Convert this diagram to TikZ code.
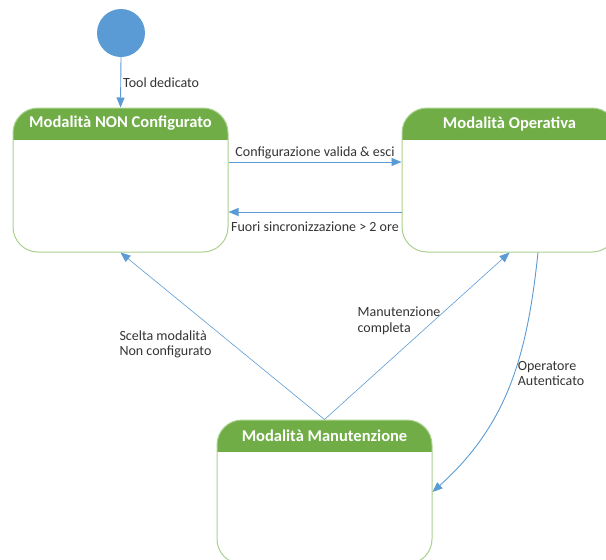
\documentclass[tikz,border=0pt]{standalone}
\usepackage{fontspec}
\setmainfont{Carlito}
\usetikzlibrary{arrows.meta}
\definecolor{verde}{HTML}{70AD47}
\definecolor{bordo}{HTML}{A9D18E}
\definecolor{blu}{HTML}{5B9BD5}
\begin{document}
\begin{tikzpicture}[x=1pt, y=-1pt, line join=round, >={Triangle[length=10pt,width=8pt]},
	freccia/.style={->, draw=blu, line width=0.9pt},
	etichetta/.style={font=\fontsize{14}{15.5}\selectfont, text=black!80, align=left, inner sep=1pt},
	titolo/.style={font=\fontsize{16.5}{18}\selectfont\bfseries, text=white},
	stato/.style={draw=bordo, line width=1pt, fill=white, rounded corners=25pt, minimum width=215pt, minimum height=144pt, inner sep=0,
		path picture={\fill[verde, sharp corners] (path picture bounding box.north west) rectangle ([yshift=-32pt]path picture bounding box.north east);}}]
	\useasboundingbox (0,0) rectangle (606,560);
	\clip (0,0) rectangle (606,560);
	\node[circle, fill=blu, minimum size=48pt, inner sep=0] (inizio) at (121,33) {};
	\node[stato] (nonconf) at (120.5,180) {};
	\node[stato] (operativa) at (509.5,180) {};
	\node[stato] (manut) at (324.5,492) {};
	\node[titolo] (tnonconf) at ([yshift=-16pt]nonconf.north) {Modalità NON Configurato};
	\node[titolo] (toperativa) at ([yshift=-16pt]operativa.north) {Modalità Operativa};
	\node[titolo] (tmanut) at ([yshift=-16pt]manut.north) {Modalità Manutenzione};
	\draw[freccia] (inizio.south) -- (nonconf.north) node[etichetta, midway, right=1pt] {Tool dedicato};
	\draw[freccia] ([yshift=18pt]nonconf.east) -- ([yshift=18pt]operativa.west) node[etichetta, midway, above=2pt] {Configurazione valida \& esci};
	\draw[freccia] ([yshift=-32pt]operativa.west) -- ([yshift=-32pt]nonconf.east) node[etichetta, midway, below=8pt] {Fuori sincronizzazione > 2 ore};
	\draw[freccia, line width=0.6pt] (manut.north) -- (nonconf.south) node[etichetta, pos=0.45, anchor=east, xshift=-20pt] {Scelta modalità\\Non configurato};
	\draw[freccia, line width=0.6pt] (manut.north) -- (operativa.south) node[etichetta, pos=0.59, anchor=east, xshift=8pt] {Manutenzione\\completa};
	\draw[freccia] ([xshift=28.5pt]operativa.south) to[out=-96, in=42] node[etichetta, pos=0.47, anchor=west, xshift=4pt, yshift=4pt] {Operatore\\Autenticato} (manut.east);
\end{tikzpicture}
\end{document}
